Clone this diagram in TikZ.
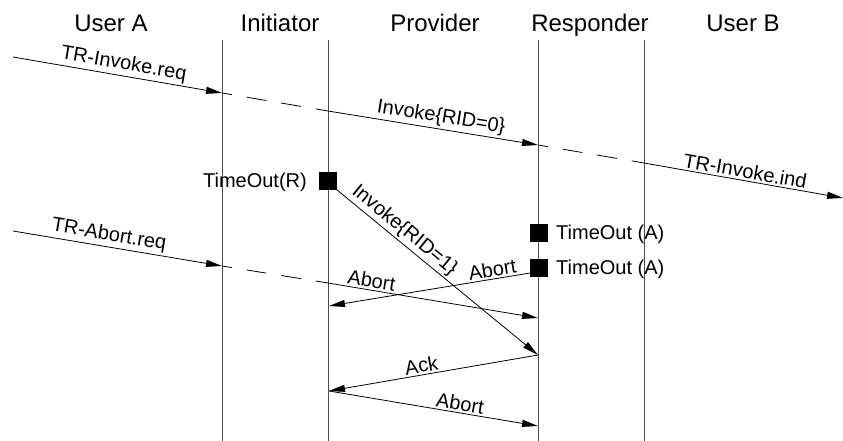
\documentclass[tikz,border=0pt]{standalone}
\usepackage{fontspec}
\setmainfont{Liberation Sans}
\usetikzlibrary{arrows.meta}
\begin{document}
\begin{tikzpicture}[x=1pt,y=-1pt,
  head/.style={font=\fontsize{24}{28}\selectfont, inner sep=0pt, anchor=base},
  lbl/.style={font=\fontsize{20}{24}\selectfont, inner sep=2pt},
  lifeline/.style={draw=black!70, line width=1pt},
  msg/.style={draw=black, line width=0.8pt, -{Triangle[length=16pt,width=7pt]}},
  rmsg/.style={draw=black, line width=0.8pt, {Triangle[length=16pt,width=7pt]}-},
  plain/.style={draw=black, line width=0.8pt},
  dsh/.style={draw=black, line width=0.8pt, dash pattern=on 20pt off 15pt, dash phase=10pt},
  tbox/.style={fill=black, draw=black, minimum width=17pt, minimum height=17pt, inner sep=0pt}]
\useasboundingbox (0,0) rectangle (843,441);
% headers
\node[head] (hA) at (111,32) {User A};
\node[head] (hI) at (280,32) {Initiator};
\node[head] (hP) at (435,32) {Provider};
\node[head] (hR) at (590,32) {Responder};
\node[head] (hB) at (743,32) {User B};
% lifelines
\foreach \n/\x in {I/222,P/328,R/538,B/644}{
  \coordinate (t\n) at (\x,40);
  \coordinate (b\n) at (\x,441);
  \draw[lifeline] (t\n) -- (b\n);
}
% invoke sequence
\coordinate (s1) at (13,57);
\coordinate (i1) at (222,93);
\coordinate (p1) at (328,111);
\coordinate (r1) at (538,145);
\coordinate (u1) at (644,163);
\coordinate (e1) at (843,198);
\draw[msg] (s1) -- node[lbl,above,sloped,pos=0.52]{TR-Invoke.req} (i1);
\draw[dsh] (i1) -- (p1);
\draw[msg] (p1) -- node[lbl,above,sloped,pos=0.53]{Invoke\{RID=0\}} (r1);
\draw[dsh] (r1) -- (u1);
\draw[msg] (u1) -- node[lbl,above,sloped,pos=0.5]{TR-Invoke.ind} (e1);
% timeouts
\node[tbox] (toR) at (328,181) {};
\node[lbl,anchor=east,inner sep=0pt] (toRl) at (307,182) {TimeOut(R)};
\node[tbox] (toA1) at (539,233) {};
\node[lbl,anchor=west,inner sep=0pt] (toA1l) at (556,234) {TimeOut (A)};
\node[tbox] (toA2) at (539,268) {};
\node[lbl,anchor=west,inner sep=0pt] (toA2l) at (556,269) {TimeOut (A)};
% retransmitted invoke
\coordinate (r2) at (538,355);
\draw[msg] (toR.south east) -- node[lbl,above,sloped,pos=0.3]{Invoke\{RID=1\}} (r2);
% abort sequence
\coordinate (s3) at (13,231);
\coordinate (i3) at (222,266);
\coordinate (p3) at (328,283);
\coordinate (r3) at (538,318);
\draw[msg] (s3) -- node[lbl,above,sloped,pos=0.45]{TR-Abort.req} (i3);
\draw[dsh] (i3) -- (p3);
\draw[msg] (p3) -- node[lbl,above,sloped,pos=0.2]{Abort} (r3);
\coordinate (p4) at (329,306);
\coordinate (a4) at (530,273);
\draw[rmsg] (p4) -- node[lbl,above,sloped,pos=0.82]{Abort} (a4);
% ack and abort
\coordinate (p5) at (329,391);
\coordinate (r6) at (538,426);
\draw[rmsg] (p5) -- node[lbl,above,sloped,pos=0.45]{Ack} (r2);
\draw[msg] (p5) -- node[lbl,above,sloped,pos=0.62]{Abort} (r6);
\end{tikzpicture}
\end{document}
